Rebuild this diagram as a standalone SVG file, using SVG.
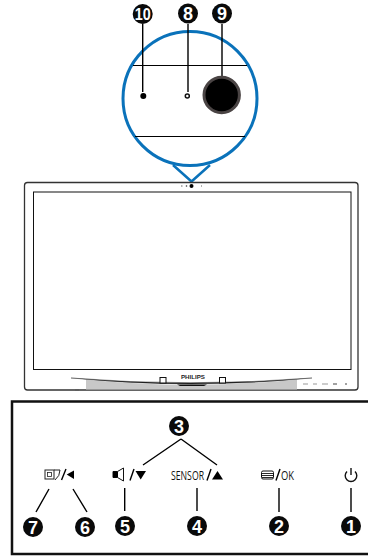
<svg xmlns="http://www.w3.org/2000/svg" width="368" height="556" viewBox="0 0 368 556">
<style>
.l{stroke:#000;stroke-width:1.400;fill:none}
.b circle{fill:#0a0a0a}
.b text{fill:#fff;font-family:"Liberation Sans",Arial,sans-serif;font-weight:700;font-size:18px;text-anchor:middle}
.t{font-family:"Open Sans","Liberation Sans",sans-serif;fill:#111}
</style>
<rect width="368" height="556" fill="#fff"/>
<g id="callout">
<path d="M173 165 L191.500 181.500 L210 165" fill="#fff" stroke="#0a72ba" stroke-width="2.500"/>
<circle cx="190" cy="98.500" r="67" fill="#fff" stroke="#0a72ba" stroke-width="3"/>
<path d="M133 65.500H247M135 136.500H245" stroke="#000" stroke-width="1"/>
</g>
<g id="monitor">
<rect x="24.500" y="182.500" width="333.500" height="207.500" rx="3" fill="#fff" stroke="#333" stroke-width="1.300"/>
<rect x="33.500" y="192" width="317.500" height="177.500" fill="#fff" stroke="#111" stroke-width="1"/>
<path d="M86 379.500 Q190 390 297 379.500 V389.500 H86Z" fill="#c8c8c8"/>
<path d="M71 378 Q190 390 312 378 Q190 387.500 71 378Z" fill="#222" stroke="#222" stroke-width=".4"/>
<path d="M177 384.500 H207 L204 386 H180Z" fill="#111"/>
<rect x="160" y="377.500" width="6" height="5.500" fill="#fff" stroke="#111"/>
<rect x="219.500" y="377.500" width="6" height="5.500" fill="#fff" stroke="#111"/>
<text x="181" y="379" font-family="Liberation Sans,sans-serif" font-weight="700" font-size="5.500" textLength="24" lengthAdjust="spacingAndGlyphs" fill="#222">PHILIPS</text>
<path d="M76 389V391M78 389V391" stroke="#555" stroke-width=".7"/>
<circle cx="191.500" cy="186" r="2" fill="#000"/>
<circle cx="186.500" cy="186" r=".8" fill="#333"/>
<path d="M181 186h1.500M201 186h1" stroke="#666"/>
<path d="M303 384h5M313 384h4M322 384h6" stroke="#999" stroke-width="1"/>
<path d="M333 384h4M345 384h2" stroke="#444" stroke-width="1"/>
</g>
<rect id="panel" x="12" y="401.500" width="358" height="152.500" fill="none" stroke="#111" stroke-width="2.500"/>
<g id="connectors">
<path class="l" d="M142.700 24V92M188 24V92M222 24V76"/>
<path class="l" d="M181 439 L143 465M181 439 L217 465"/>
<path class="l" d="M49 489L36 512M73 489L87 512M124.700 488V511M197 488V511M279 488V512M351 488V512"/>
</g>
<g id="n10" class="b"><circle cx="142.700" cy="14" r="10"/><text x="142.700" y="20" textLength="16" lengthAdjust="spacingAndGlyphs" style="font-size:17px">10</text></g>
<g id="n8" class="b"><circle cx="188" cy="13.500" r="10"/><text x="188" y="20">8</text></g>
<g id="n9" class="b"><circle cx="222" cy="13.500" r="10"/><text x="222" y="20">9</text></g>
<g id="led10"><circle cx="143.300" cy="96" r="3" fill="#000"/></g>
<g id="led8"><circle cx="187.300" cy="96" r="2" fill="#fff" stroke="#111" stroke-width="1.500"/></g>
<g id="camera"><circle cx="221.700" cy="95" r="17.700" fill="#000" stroke="#4a4444" stroke-width="3"/></g>
<g id="n3" class="b"><circle cx="179" cy="426" r="10"/><text x="179" y="432.500">3</text></g>
<g id="n7" class="b"><circle cx="33" cy="527" r="10"/><text x="33" y="533.500">7</text></g>
<g id="n6" class="b"><circle cx="85" cy="527" r="10"/><text x="85" y="533.500">6</text></g>
<g id="n5" class="b"><circle cx="125" cy="526" r="10"/><text x="125" y="532.500">5</text></g>
<g id="n4" class="b"><circle cx="197" cy="526" r="10"/><text x="197" y="532.500">4</text></g>
<g id="n2" class="b"><circle cx="279" cy="526" r="10"/><text x="279" y="532.500">2</text></g>
<g id="n1" class="b"><circle cx="351" cy="526" r="10"/><text x="351" y="532.500">1</text></g>
<g id="k7">
<rect x="45" y="470" width="9" height="9" fill="none" stroke="#222"/>
<rect x="47.500" y="472.500" width="4" height="4" fill="none" stroke="#222" stroke-width=".8"/>
<path d="M54 470H60Q60 476 55 480" fill="none" stroke="#222"/>
<path d="M61.500 480L66 469" class="l"/>
<path d="M66.700 474.500L74 470.500V479Z" fill="#000"/>
</g>
<g id="k5">
<path d="M113 471.500H117.500L123.500 468V481L117.500 477.500H113Z" fill="#fff" stroke="#111"/>
<path d="M113 471.500H118V477.500H113Z" fill="#000"/>
<path d="M130 480.500L134 469" class="l"/>
<path d="M135.500 471H146L140.700 479.500Z" fill="#000"/>
</g>
<g id="k4">
<text class="t" x="171" y="480" font-size="13" textLength="33" lengthAdjust="spacingAndGlyphs">SENSOR</text>
<path d="M207 480.500L211 469" class="l"/>
<path d="M212 479.500L217.500 471L223 479.500Z" fill="#000"/>
</g>
<g id="k2">
<rect x="261.500" y="471" width="12" height="8" rx="1.500" fill="none" stroke="#111"/>
<path d="M262 473.500H273M262 475.500H273M262 477.500H273" stroke="#111" stroke-width=".9"/>
<path d="M276 480.500L280 469" class="l"/>
<text class="t" x="281" y="480" font-size="12" textLength="13" lengthAdjust="spacingAndGlyphs">OK</text>
</g>
<g id="k1">
<path d="M347 471.500A5.800 5.800 0 1 0 355 471.500" fill="none" stroke="#111" stroke-width="1.400"/>
<path d="M351 468V475" stroke="#111" stroke-width="1.400"/>
</g>
</svg>
